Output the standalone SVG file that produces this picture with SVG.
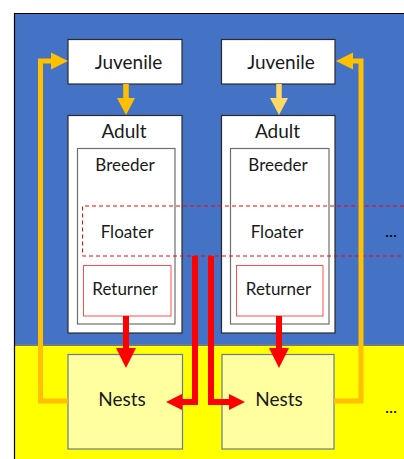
<svg xmlns="http://www.w3.org/2000/svg" width="404" height="459" viewBox="0 0 404 459">
<style>
.t{font-family:Lato,"Liberation Sans",sans-serif;fill:#1a1a1a;text-anchor:middle}
.big{font-size:19px}
.sm{font-size:17px}
.box{fill:#fff;stroke:#2b2b2b;stroke-width:1.2}
.inner{fill:#fff;stroke:#6e6e6e;stroke-width:1.2}
.ret{fill:#fff;stroke:#ff4d4d;stroke-width:1}
.nest{fill:#ffffa0;stroke:#6a7a96;stroke-width:1.2}
.or{fill:none;stroke:#ffc000;stroke-width:5}
.rd{fill:none;stroke:#ff0000;stroke-width:6}
</style>
<rect x="14" y="13" width="400" height="332" fill="#4472c4"/>
<rect x="14" y="346" width="400" height="120" fill="#ffff00"/>
<line x1="14" y1="345" x2="404" y2="345" stroke="#6f7a8a" stroke-width="2"/>
<line x1="14.5" y1="13" x2="14.5" y2="459" stroke="#000" stroke-width="1.2"/>
<line x1="14" y1="13.5" x2="404" y2="13.5" stroke="#000" stroke-width="1.2"/>

<g id="juvenile1"><rect class="box" x="68" y="39.5" width="114" height="44.5"/><text class="t big" x="128.5" y="68.5">Juvenile</text></g>
<g id="juvenile2"><rect class="box" x="221.5" y="39.5" width="113.5" height="44.5"/><text class="t big" x="281" y="68.5">Juvenile</text></g>

<g id="adult1"><rect class="box" x="68" y="115.5" width="114" height="217.5"/><text class="t big" x="124" y="137.5">Adult</text>
<rect class="inner" x="77.5" y="148.5" width="97.5" height="175.5"/></g>
<g id="adult2"><rect class="box" x="221.5" y="115.5" width="113.5" height="217.5"/><text class="t big" x="277.5" y="137.5">Adult</text>
<rect class="inner" x="230.5" y="148.5" width="98.5" height="175.5"/></g>

<g id="breeder1"><text class="t sm" x="125" y="171">Breeder</text></g>
<g id="breeder2"><text class="t sm" x="278" y="171">Breeder</text></g>

<g id="floater"><path d="M404,206 H82.5 V256 H404" fill="none" stroke="#ff0000" stroke-width="1" stroke-dasharray="4,3"/>
<text class="t sm" x="127" y="238">Floater</text><text class="t sm" x="277" y="238">Floater</text></g>

<g id="returner1"><rect class="ret" x="83.5" y="265.5" width="87.5" height="50.5"/><text class="t sm" x="125" y="294.5">Returner</text></g>
<g id="returner2"><rect class="ret" x="236.5" y="265.5" width="86.5" height="50.5"/><text class="t sm" x="278.5" y="294.5">Returner</text></g>

<g id="nests1"><rect class="nest" x="68" y="354.5" width="114.5" height="94.5"/><text class="t big" x="122" y="406">Nests</text></g>
<g id="nests2"><rect class="nest" x="222" y="354.5" width="112" height="94.5"/><text class="t big" x="279" y="406">Nests</text></g>

<g id="ellipsis"><text class="t" style="font-size:17px;fill:#000" x="391" y="237">...</text><text class="t" style="font-size:17px;fill:#000" x="391" y="413">...</text></g>

<g id="connectors">
<path class="or" d="M68,401 H40.5 V61 H53"/>
<polygon points="51,52.5 68,61 51,69.5" fill="#ffc000"/>
<path class="or" d="M334,401 H361 V61 H351"/>
<polygon points="353,52.5 336,61 353,69.5" fill="#ffc000"/>
<line x1="126" y1="84" x2="126" y2="100" stroke="#ffc000" stroke-width="5.5"/>
<polygon points="117,98 135,98 126,115" fill="#ffc000"/>
<line x1="279" y1="84" x2="279" y2="100" stroke="#ffd966" stroke-width="5.5"/>
<polygon points="270,98 288,98 279,115" fill="#ffd966"/>
<line x1="126" y1="316" x2="126" y2="350" stroke="#ff0000" stroke-width="6"/>
<polygon points="116,348 136,348 126,368" fill="#ff0000"/>
<line x1="279" y1="316" x2="279" y2="350" stroke="#ff0000" stroke-width="6"/>
<polygon points="269,348 289,348 279,368" fill="#ff0000"/>
<path class="rd" d="M195,256 V402 H180"/>
<polygon points="182,394 166,402 182,410" fill="#ff0000"/>
<path class="rd" d="M211,256 V402 H231"/>
<polygon points="229,394 245,402 229,410" fill="#ff0000"/>
</g>
</svg>
